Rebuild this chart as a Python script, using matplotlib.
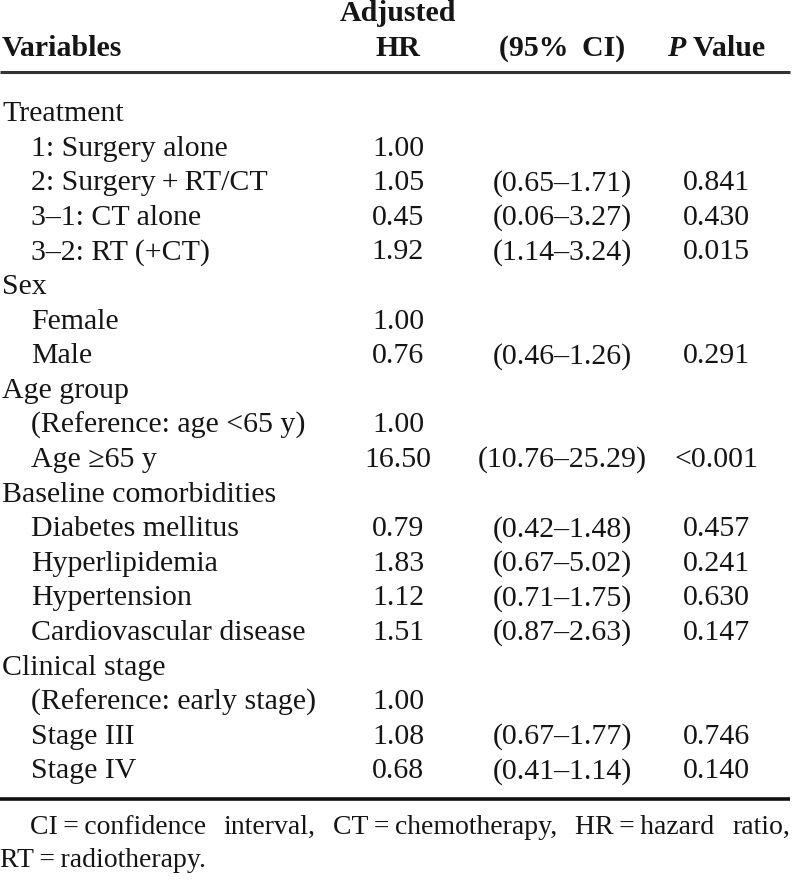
import matplotlib
matplotlib.use("Agg")
import matplotlib.pyplot as plt

plt.rcParams['font.family'] = ['Liberation Serif', 'DejaVu Serif']

# Table contents
variables = [
    "Treatment", "1: Surgery alone", "2: Surgery\u2009+\u2009RT/CT", "3\u20131: CT alone", "3\u20132: RT (+CT)",
    "Sex", "Female", "Male",
    "Age group", "(Reference: age <65 y)", "Age \u226565 y",
    "Baseline comorbidities", "Diabetes mellitus", "Hyperlipidemia", "Hypertension",
    "Cardiovascular disease",
    "Clinical stage", "(Reference: early stage)", "Stage III", "Stage IV",
]
indented = [0, 1, 1, 1, 1, 0, 1, 1, 0, 1, 1, 0, 1, 1, 1, 1, 0, 1, 1, 1]
hr = ["", "1.00", "1.05", "0.45", "1.92", "", "1.00", "0.76", "", "1.00", "16.50",
      "", "0.79", "1.83", "1.12", "1.51", "", "1.00", "1.08", "0.68"]
ci = ["", "", "(0.65\u20131.71)", "(0.06\u20133.27)", "(1.14\u20133.24)", "", "", "(0.46\u20131.26)",
      "", "", "(10.76\u201325.29)", "", "(0.42\u20131.48)", "(0.67\u20135.02)", "(0.71\u20131.75)",
      "(0.87\u20132.63)", "", "", "(0.67\u20131.77)", "(0.41\u20131.14)"]
pval = ["", "", "0.841", "0.430", "0.015", "", "", "0.291", "", "", "<0.001",
        "", "0.457", "0.241", "0.630", "0.147", "", "", "0.746", "0.140"]

footnote1 = ["CI\u2009=\u2009confidence", "interval,", "CT\u2009=\u2009chemotherapy,", "HR\u2009=\u2009hazard", "ratio,"]
footnote2 = "RT\u2009=\u2009radiotherapy."

fs = 21.5
ink = '#151515'
fig = plt.figure(figsize=(8, 8.85), dpi=100)
ax = fig.add_axes([0, 0, 1, 1])
ax.set_xlim(0, 800)
ax.set_ylim(885, 0)
ax.axis('off')
renderer = fig.canvas.get_renderer()

x_var, x_ind, x_hr, x_ci, x_p = 2, 31, 398, 562, 716

# header
ax.text(x_hr, 21, "Adjusted", fontsize=fs, fontweight='bold', ha='center', va='baseline', color=ink)
ax.text(x_var, 56, "Variables", fontsize=fs, fontweight='bold', ha='left', va='baseline', color=ink)
ax.text(x_hr, 56, "HR", fontsize=fs, fontweight='bold', ha='center', va='baseline', color=ink)
ax.text(x_ci, 56, "(95%\u2009 CI)", fontsize=fs, fontweight='bold', ha='center', va='baseline', color=ink)
tp = ax.text(0, 56, "P", fontsize=fs, fontweight='bold', style='italic', va='baseline', color=ink)
tv = ax.text(0, 56, " Value", fontsize=fs, fontweight='bold', va='baseline', color=ink)
wp = tp.get_window_extent(renderer).width
wv = tv.get_window_extent(renderer).width
x0 = x_p - (wp + wv) / 2
tp.set_x(x0)
tv.set_x(x0 + wp)

ax.plot([0, 790], [72, 72], color='#333333', lw=2.2, solid_capstyle='butt')

# body rows
y0, dy = 121, 34.6
for i, name in enumerate(variables):
    y = y0 + dy * i
    ax.text(x_ind if indented[i] else x_var, y, name, fontsize=fs, ha='left', va='baseline', color=ink)
    ax.text(x_hr, y, hr[i], fontsize=fs, ha='center', va='baseline', color=ink)
    ax.text(x_ci, y, ci[i], fontsize=fs, ha='center', va='baseline', color=ink)
    ax.text(x_p, y, pval[i], fontsize=fs, ha='center', va='baseline', color=ink)

ax.plot([0, 790], [799, 799], color='#111111', lw=2.6, solid_capstyle='butt')

# footnote, justified first line
fs2 = 20
left, right = 30, 790
words = [ax.text(0, 834, w, fontsize=fs2, va='baseline', color=ink) for w in footnote1]
widths = [w.get_window_extent(renderer).width for w in words]
gap = (right - left - sum(widths)) / (len(words) - 1)
x = left
for w, wd in zip(words, widths):
    w.set_x(x)
    x += wd + gap
ax.text(0, 867, footnote2, fontsize=fs2, va='baseline', color=ink)

fig.savefig("out.png", dpi=100)
